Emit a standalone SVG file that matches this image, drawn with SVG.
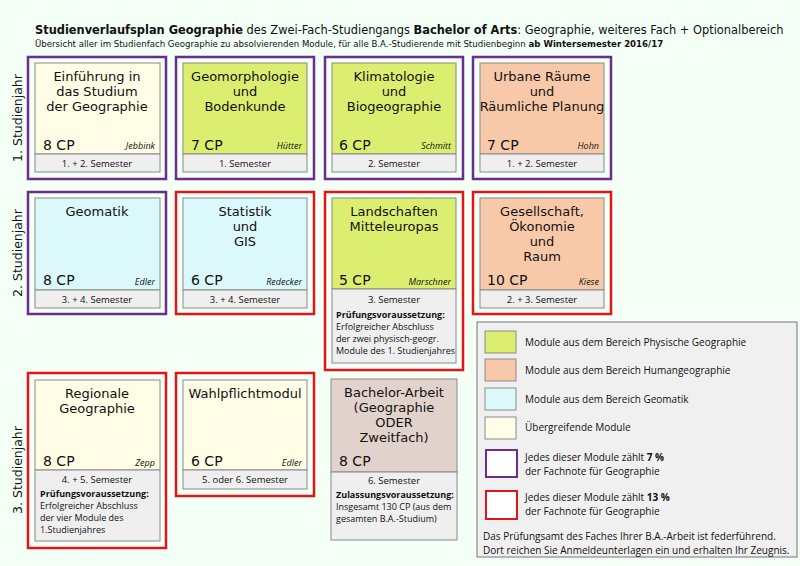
<svg xmlns="http://www.w3.org/2000/svg" width="800" height="566" viewBox="0 0 800 566">
<style>
text{font-family:"DejaVu Sans",sans-serif;fill:#111}
.p{fill:none;stroke:#6a2d90;stroke-width:2.5}
.r{fill:none;stroke:#e0161e;stroke-width:2.5}
.in{stroke:#8a8a8a;stroke-width:1}
.band{fill:#efefef;stroke:#8a8a8a;stroke-width:1}
.phy{fill:#dcee70}.hum{fill:#f8c9a9}.geo{fill:#dbf8fb}.ueb{fill:#fffde6}.ba{fill:#e2d2cc}
.t{font-size:13px;text-anchor:middle}
.cp{font-size:14px}
.n{font-size:9px;font-style:italic;text-anchor:end;font-family:"Open Sans",sans-serif}
.s{font-size:9.5px;text-anchor:middle;font-family:"Open Sans",sans-serif}
.x{font-size:9px;font-family:"Open Sans",sans-serif}
.y{font-size:12.5px;text-anchor:middle}
.lg{font-size:10px;font-family:"Open Sans",sans-serif}
</style>
<rect width="800" height="566" fill="#f4fff6"/>
<text x="35" y="34" font-size="11.4"><tspan font-weight="bold">Studienverlaufsplan Geographie</tspan> des Zwei-Fach-Studiengangs <tspan font-weight="bold">Bachelor of Arts</tspan>: Geographie, weiteres Fach + Optionalbereich</text>
<text x="35" y="47" font-size="8.6">Übersicht aller im Studienfach Geographie zu absolvierenden Module, für alle B.A.-Studierende mit Studienbeginn <tspan font-weight="bold">ab Wintersemester 2016/17</tspan></text>
<text class="y" transform="translate(22,118) rotate(-90)">1. Studienjahr</text>
<text class="y" transform="translate(22,253) rotate(-90)">2. Studienjahr</text>
<text class="y" transform="translate(22,470) rotate(-90)">3. Studienjahr</text>

<g id="einfuehrung"><rect class="p" x="28" y="57" width="138" height="122"/><rect class="ueb in" x="35" y="63" width="125" height="91"/><rect class="band" x="35" y="154" width="125" height="18"/>
<text class="t" x="97" y="81">Einführung in</text><text class="t" x="97" y="96">das Studium</text><text class="t" x="97" y="111">der Geographie</text>
<text class="cp" x="43" y="150">8 CP</text><text class="n" x="155" y="149">Jebbink</text><text class="s" x="97" y="167">1. + 2. Semester</text></g>

<g id="geomorphologie"><rect class="p" x="176" y="57" width="138" height="122"/><rect class="phy in" x="183" y="63" width="124" height="91"/><rect class="band" x="183" y="154" width="124" height="18"/>
<text class="t" x="245" y="81">Geomorphologie</text><text class="t" x="245" y="96">und</text><text class="t" x="245" y="111">Bodenkunde</text>
<text class="cp" x="191" y="150">7 CP</text><text class="n" x="302" y="149">Hütter</text><text class="s" x="245" y="167">1. Semester</text></g>

<g id="klimatologie"><rect class="p" x="325" y="57" width="138" height="122"/><rect class="phy in" x="332" y="63" width="124" height="91"/><rect class="band" x="332" y="154" width="124" height="18"/>
<text class="t" x="394" y="81">Klimatologie</text><text class="t" x="394" y="96">und</text><text class="t" x="394" y="111">Biogeographie</text>
<text class="cp" x="339" y="150">6 CP</text><text class="n" x="451" y="149">Schmitt</text><text class="s" x="394" y="167">2. Semester</text></g>

<g id="urbane"><rect class="p" x="473" y="57" width="138" height="122"/><rect class="hum in" x="480" y="63" width="124" height="91"/><rect class="band" x="480" y="154" width="124" height="18"/>
<text class="t" x="542" y="81">Urbane Räume</text><text class="t" x="542" y="96">und</text><text class="t" x="542" y="111">Räumliche Planung</text>
<text class="cp" x="487" y="150">7 CP</text><text class="n" x="599" y="149">Hohn</text><text class="s" x="542" y="167">1. + 2. Semester</text></g>

<g id="geomatik"><rect class="p" x="28" y="192" width="138" height="122"/><rect class="geo in" x="35" y="198" width="125" height="92"/><rect class="band" x="35" y="290" width="125" height="18"/>
<text class="t" x="97" y="216">Geomatik</text>
<text class="cp" x="43" y="285">8 CP</text><text class="n" x="155" y="285">Edler</text><text class="s" x="97" y="303">3. + 4. Semester</text></g>

<g id="statistik"><rect class="r" x="176" y="192" width="138" height="122"/><rect class="geo in" x="183" y="198" width="124" height="92"/><rect class="band" x="183" y="290" width="124" height="18"/>
<text class="t" x="245" y="216">Statistik</text><text class="t" x="245" y="231">und</text><text class="t" x="245" y="246">GIS</text>
<text class="cp" x="191" y="285">6 CP</text><text class="n" x="302" y="285">Redecker</text><text class="s" x="245" y="303">3. + 4. Semester</text></g>

<g id="landschaften"><rect class="r" x="325" y="192" width="138" height="178"/><rect class="phy in" x="332" y="198" width="124" height="91"/><rect class="band" x="332" y="289" width="124" height="74"/>
<text class="t" x="394" y="216">Landschaften</text><text class="t" x="394" y="231">Mitteleuropas</text>
<text class="cp" x="339" y="285">5 CP</text><text class="n" x="451" y="285">Marschner</text><text class="s" x="394" y="303">3. Semester</text>
<text class="x" x="336" y="318" font-weight="bold">Prüfungsvoraussetzung:</text><text class="x" x="336" y="330">Erfolgreicher Abschluss</text><text class="x" x="336" y="342">der zwei physisch-geogr.</text><text class="x" x="336" y="354">Module des 1. Studienjahres</text></g>

<g id="gesellschaft"><rect class="r" x="473" y="192" width="138" height="122"/><rect class="hum in" x="480" y="198" width="124" height="92"/><rect class="band" x="480" y="290" width="124" height="18"/>
<text class="t" x="542" y="216">Gesellschaft,</text><text class="t" x="542" y="231">Ökonomie</text><text class="t" x="542" y="246">und</text><text class="t" x="542" y="261">Raum</text>
<text class="cp" x="487" y="285">10 CP</text><text class="n" x="599" y="285">Kiese</text><text class="s" x="542" y="303">2. + 3. Semester</text></g>

<g id="regionale"><rect class="r" x="28" y="373" width="138" height="175"/><rect class="ueb in" x="35" y="380" width="125" height="90"/><rect class="band" x="35" y="470" width="125" height="71"/>
<text class="t" x="97" y="398">Regionale</text><text class="t" x="97" y="413">Geographie</text>
<text class="cp" x="43" y="466">8 CP</text><text class="n" x="155" y="466">Zepp</text><text class="s" x="97" y="483">4. + 5. Semester</text>
<text class="x" x="40" y="497" font-weight="bold">Prüfungsvoraussetzung:</text><text class="x" x="40" y="509">Erfolgreicher Abschluss</text><text class="x" x="40" y="521">der vier Module des</text><text class="x" x="40" y="533">1.Studienjahres</text></g>

<g id="wahlpflicht"><rect class="r" x="176" y="373" width="138" height="123"/><rect class="ueb in" x="183" y="380" width="124" height="90"/><rect class="band" x="183" y="470" width="124" height="19"/>
<text class="t" x="245" y="398">Wahlpflichtmodul</text>
<text class="cp" x="191" y="466">6 CP</text><text class="n" x="302" y="466">Edler</text><text class="s" x="245" y="483">5. oder 6. Semester</text></g>

<g id="bachelorarbeit"><rect class="ba in" x="331" y="379" width="126" height="93"/><rect class="band" x="331" y="472" width="126" height="68"/>
<text class="t" x="394" y="397">Bachelor-Arbeit</text><text class="t" x="394" y="412">(Geographie</text><text class="t" x="394" y="427">ODER</text><text class="t" x="394" y="442">Zweitfach)</text>
<text class="cp" x="339" y="466">8 CP</text><text class="s" x="394" y="484">6. Semester</text>
<text class="x" x="336" y="498" font-weight="bold">Zulassungsvoraussetzung:</text><text class="x" x="336" y="510">Insgesamt 130 CP (aus dem</text><text class="x" x="336" y="522">gesamten B.A.-Studium)</text></g>

<g id="legende"><rect x="477" y="322" width="320" height="235" fill="#f0f0f0" stroke="#777"/>
<rect class="phy in" x="485" y="331" width="31" height="22"/><text class="lg" x="525" y="346">Module aus dem Bereich Physische Geographie</text>
<rect class="hum in" x="485" y="359" width="31" height="22"/><text class="lg" x="525" y="374">Module aus dem Bereich Humangeographie</text>
<rect class="geo in" x="485" y="388" width="31" height="22"/><text class="lg" x="525" y="403">Module aus dem Bereich Geomatik</text>
<rect class="ueb in" x="485" y="417" width="31" height="22"/><text class="lg" x="525" y="431">Übergreifende Module</text>
<rect x="486" y="450" width="31" height="27" fill="#fff" stroke="#6a2d90" stroke-width="2"/><text class="lg" x="525" y="461">Jedes dieser Module zählt <tspan font-weight="bold">7 %</tspan></text><text class="lg" x="525" y="475">der Fachnote für Geographie</text>
<rect x="486" y="491" width="31" height="28" fill="#fff" stroke="#e0161e" stroke-width="2"/><text class="lg" x="525" y="501">Jedes dieser Module zählt <tspan font-weight="bold">13 %</tspan></text><text class="lg" x="525" y="515">der Fachnote für Geographie</text>
<text class="lg" x="483" y="540">Das Prüfungsamt des Faches Ihrer B.A.-Arbeit ist federführend.</text>
<text class="lg" x="483" y="554">Dort reichen Sie Anmeldeunterlagen ein und erhalten Ihr Zeugnis.</text></g>
</svg>
